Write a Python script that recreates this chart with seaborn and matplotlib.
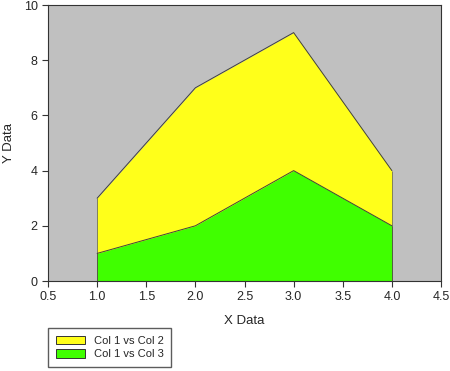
import numpy as np
import pandas as pd
import seaborn as sns
import matplotlib.pyplot as plt
from matplotlib.patches import Patch

x = [1.0, 2.0, 3.0, 4.0]
col2 = [3, 7, 9, 4]
col3 = [1, 2, 4, 2]
labels = ["Col 1 vs Col 2", "Col 1 vs Col 3"]
colors = ["#FFFF1A", "#40FF00"]

sns.set_style("ticks")
plt.rcParams['font.family'] = ['Liberation Sans', 'DejaVu Sans']

fig = plt.figure(figsize=(4.5, 3.71), dpi=100)
ax = fig.add_axes([48 / 450, 1 - 281 / 371, (441 - 48) / 450, (281 - 5) / 371])
ax.set_facecolor("#C0C0C0")

df = pd.DataFrame({"x": x, "c2": col2, "c3": col3})
for col, c in zip(["c2", "c3"], colors):
    ax.fill_between(df["x"], 0, df[col], color=c, linewidth=0, zorder=2)
    sns.lineplot(data=df, x="x", y=col, ax=ax, color="#404040", linewidth=0.7, zorder=3)
    ax.vlines([x[0], x[-1]], 0, [df[col].iloc[0], df[col].iloc[-1]], color="#404040", linewidth=0.4, zorder=3)

ax.set_xlim(0.5, 4.5)
ax.set_ylim(0, 10)
ax.set_xticks(np.arange(0.5, 4.51, 0.5))
ax.set_xticklabels([f"{v:.1f}" for v in np.arange(0.5, 4.51, 0.5)])
ax.set_yticks([0, 2, 4, 6, 8, 10])
ax.tick_params(labelsize=9, length=4, width=0.8, color="#333333", direction="out")
ax.set_xlabel("X Data", fontsize=9.5, labelpad=8)
ax.set_ylabel("Y Data", fontsize=9.5, labelpad=6)
for s in ax.spines.values():
    s.set_linewidth(0.8)
    s.set_color("#333333")

handles = [Patch(facecolor=c, edgecolor="#333333", linewidth=0.7) for c in colors]
fig.legend(handles, labels, loc="upper left", bbox_to_anchor=(48 / 450, 1 - 328 / 371),
           fontsize=8, frameon=True, fancybox=False, edgecolor="#333333",
           handlelength=2.6, handleheight=0.8, borderpad=0.7, labelspacing=0.3,
           handletextpad=0.8, borderaxespad=0)

fig.savefig("out.png", dpi=100)
